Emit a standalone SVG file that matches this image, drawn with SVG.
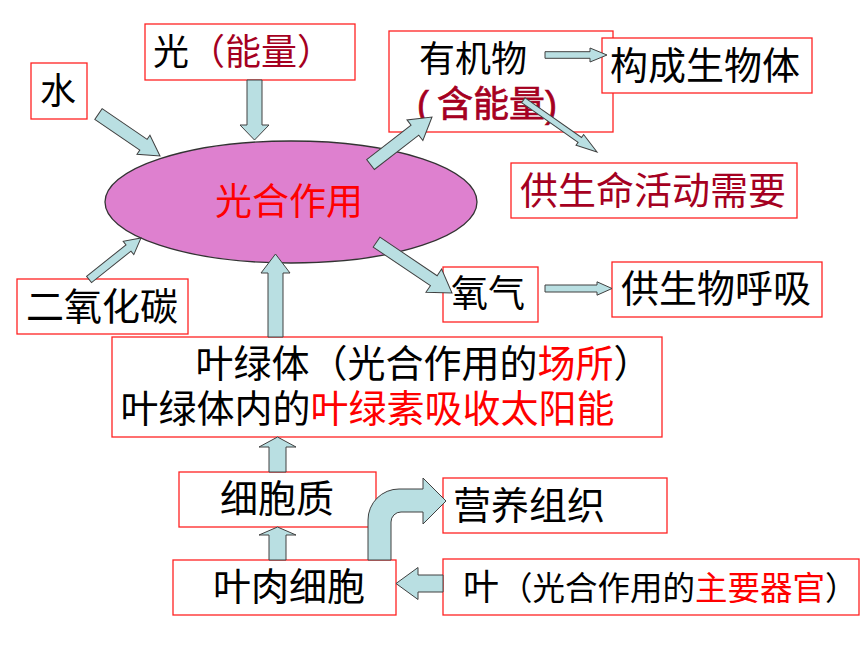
<svg xmlns="http://www.w3.org/2000/svg" width="860" height="645" viewBox="0 0 860 645">
<style>
.box{fill:#fff;stroke:#f22;stroke-width:1.3}
.t{font-family:'Liberation Sans','Noto Sans CJK SC',sans-serif;fill:#000}
.dr{fill:#a50021}
.r{fill:#ff0000}
.arr{fill:#b9dfe2;stroke:#404040;stroke-width:1;stroke-linejoin:miter}
</style>
<rect width="860" height="645" fill="#fff"/>
<g id="photosynthesis">
<ellipse cx="291" cy="202" rx="186" ry="61" fill="#de80cf" stroke="#333" stroke-width="1.3"/>
<text class="t r" x="215" y="215" font-size="37">光合作用</text>
</g>
<g id="water">
<rect class="box" x="31" y="63" width="56" height="56"/>
<text class="t" x="40" y="104" font-size="36">水</text>
</g>
<g id="light">
<rect class="box" x="145" y="24" width="210" height="56"/>
<text class="t" x="153" y="65" font-size="36">光<tspan class="dr">（能量）</tspan></text>
</g>
<g id="organic">
<rect class="box" x="389" y="31" width="224" height="101"/>
<text class="t" x="419" y="72" font-size="36">有机物</text>
<text class="t dr" x="417" y="117" font-size="36" stroke="#a50021" stroke-width="0.7">(<tspan dx="8">含能量)</tspan></text>
</g>
<g id="body">
<rect class="box" x="602" y="38" width="210" height="55"/>
<text class="t" x="610" y="79" font-size="38">构成生物体</text>
</g>
<g id="life">
<rect class="box" x="511" y="163" width="286" height="55"/>
<text class="t dr" x="520" y="204" font-size="38">供生命活动需要</text>
</g>
<g id="oxygen">
<rect class="box" x="443" y="267" width="95" height="55"/>
<text class="t" x="451" y="307" font-size="37">氧气</text>
</g>
<g id="respiration">
<rect class="box" x="612" y="262" width="210" height="55"/>
<text class="t" x="621" y="302" font-size="38">供生物呼吸</text>
</g>
<g id="co2">
<rect class="box" x="17" y="279" width="171" height="55"/>
<text class="t" x="26" y="320" font-size="38">二氧化碳</text>
</g>
<g id="chloroplast">
<rect class="box" x="112" y="337" width="550" height="100"/>
<text class="t" x="195.5" y="377" font-size="38">叶绿体（光合作用的<tspan class="r">场所</tspan>）</text>
<text class="t" x="120.5" y="422" font-size="38">叶绿体内的<tspan class="r">叶绿素吸收太阳能</tspan></text>
</g>
<g id="cytoplasm">
<rect class="box" x="179" y="472" width="197" height="55"/>
<text class="t" x="220" y="512" font-size="38">细胞质</text>
</g>
<g id="tissue">
<rect class="box" x="443" y="478" width="224" height="55"/>
<text class="t" x="453" y="519" font-size="38">营养组织</text>
</g>
<g id="mesophyll">
<rect class="box" x="173" y="560" width="223" height="55"/>
<text class="t" x="213" y="600" font-size="38">叶肉细胞</text>
</g>
<g id="leaf">
<rect class="box" x="443" y="559" width="416" height="56"/>
<text class="t" x="463" y="600" font-size="36">叶<tspan x="500" font-size="32.5">（光合作用的<tspan class="r">主要器官</tspan>）</tspan></text>
</g>
<g id="connectors">
<polygon class="arr" transform="translate(160,156) rotate(34.3)" points="-74.5,-6.5 -20,-6.5 -20,-11.5 0,0 -20,11.5 -20,6.5 -74.5,6.5"/>
<polygon class="arr" transform="translate(254.5,140) rotate(90)" points="-60,-7.5 -15,-7.5 -15,-14.5 0,0 -15,14.5 -15,7.5 -60,7.5"/>
<polygon class="arr" transform="translate(141,238) rotate(-38.6)" points="-66.5,-4 -16,-4 -16,-8.5 0,0 -16,8.5 -16,4 -66.5,4"/>
<polygon class="arr" transform="translate(275.5,254) rotate(-90)" points="-83,-7.5 -19,-7.5 -19,-14.5 0,0 -19,14.5 -19,7.5 -83,7.5"/>
<polygon class="arr" transform="translate(432,117) rotate(-37.7)" points="-77.7,-6.3 -21.6,-6.3 -21.6,-13 0,0 -21.6,13 -21.6,6.3 -77.7,6.3"/>
<polygon class="arr" transform="translate(452,293) rotate(34)" points="-91,-6 -22,-6 -22,-14 0,0 -22,14 -22,6 -91,6"/>
<polygon class="arr" transform="translate(607,55)" points="-62,-3.3 -17,-3.3 -17,-7 0,0 -17,7 -17,3.3 -62,3.3"/>
<polygon class="arr" transform="translate(597,152) rotate(35.1)" points="-90,-3 -21,-3 -21,-6.6 0,0 -21,6.6 -21,3 -90,3"/>
<polygon class="arr" transform="translate(612,288.5)" points="-67,-3.5 -15,-3.5 -15,-6.7 0,0 -15,6.7 -15,3.5 -67,3.5"/>
<polygon class="arr" transform="translate(277.5,437) rotate(-90)" points="-35,-8.5 -10,-8.5 -10,-18.5 0,0 -10,18.5 -10,8.5 -35,8.5"/>
<polygon class="arr" transform="translate(277.5,527) rotate(-90)" points="-33,-8.5 -8,-8.5 -8,-18.5 0,0 -8,18.5 -8,8.5 -33,8.5"/>
<polygon class="arr" transform="translate(396,583.5) rotate(180)" points="-47,-8.5 -22,-8.5 -22,-16 0,0 -22,16 -22,8.5 -47,8.5"/>
<path class="arr" d="M368,560 V520 A31,31 0 0 1 399,489 H423 V478 L446,501 L423,524 V512 H401 A10,10 0 0 0 391,522 V560 Z"/>
</g>
</svg>
